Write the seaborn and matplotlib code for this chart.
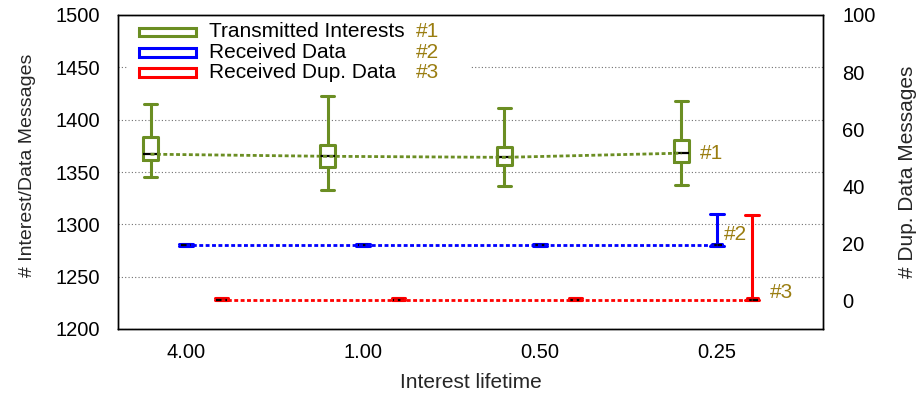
import numpy as np
import pandas as pd
import matplotlib
matplotlib.use("Agg")
import matplotlib.pyplot as plt
import seaborn as sns
from matplotlib.patches import Rectangle

# ---------------- data ----------------
lifetimes = ["4.00", "1.00", "0.50", "0.25"]

tx_whislo = [1345, 1333, 1337, 1338]
tx_q1 = [1361, 1355, 1357, 1360]
tx_med = [1367, 1365, 1364, 1368]
tx_q3 = [1383, 1376, 1374, 1381]
tx_whishi = [1415, 1423, 1411, 1418]

rx_whislo = [1279, 1279, 1279, 1279]
rx_q1 = [1279, 1279, 1279, 1279]
rx_med = [1280, 1280, 1280, 1280]
rx_q3 = [1281, 1281, 1281, 1281]
rx_whishi = [1281, 1281, 1281, 1310]

dup_whislo = [0.0, 0.0, 0.0, 0.0]
dup_q1 = [0.0, 0.0, 0.0, 0.0]
dup_med = [0.3, 0.3, 0.3, 0.3]
dup_q3 = [0.9, 0.9, 0.9, 0.9]
dup_whishi = [0.9, 0.9, 0.9, 30.0]

series_names = ["Transmitted Interests", "Received Data", "Received Dup. Data"]
series_tags = ["#1", "#2", "#3"]

# ---------------- style ----------------
sns.set_style("white")
plt.rcParams["font.family"] = ["Liberation Sans", "DejaVu Sans"]
FS_TICK = 14.5
FS = 15
FS_YLAB = 14
GREEN = "#6b8e23"
BLUE = "#0000ff"
RED = "#ff0000"
TAGC = "#9a7d10"


def frame(lo, q1, med, q3, hi, offset):
    xs, vs = [], []
    for i in range(len(lo)):
        for v in (lo[i], q1[i], med[i], q3[i], hi[i]):
            xs.append(1 + 5 * i + offset)
            vs.append(v)
    return pd.DataFrame({"pos": xs, "val": vs})


df_tx = frame(tx_whislo, tx_q1, tx_med, tx_q3, tx_whishi, 0)
df_rx = frame(rx_whislo, rx_q1, rx_med, rx_q3, rx_whishi, 1)
df_dup = frame(dup_whislo, dup_q1, dup_med, dup_q3, dup_whishi, 2)

fig = plt.figure(figsize=(9.2, 3.95), dpi=100)
ax = fig.add_axes([118 / 920, 1 - 329 / 395, 705 / 920, 314 / 395])
ax2 = ax.twinx()

LW = 2.2
common = dict(x="pos", y="val", native_scale=True, orient="x", fill=False,
              linewidth=LW, whis=(0, 100), showfliers=False, capwidths=0.38,
              medianprops=dict(color="black", linewidth=1.6))

sns.boxplot(data=df_tx, ax=ax, color=GREEN, width=0.4 / 5, **common)
sns.boxplot(data=df_rx, ax=ax, color=BLUE, width=0.3 / 5, **common)
sns.boxplot(data=df_dup, ax=ax2, color=RED, width=0.3 / 5, **common)

# dotted lines through medians
pos_tx = [1 + 5 * i for i in range(4)]
pos_rx = [2 + 5 * i for i in range(4)]
pos_dup = [3 + 5 * i for i in range(4)]
sns.lineplot(x=pos_tx, y=tx_med, ax=ax, color=GREEN, lw=2.0, dashes=False,
             linestyle=(0, (1.4, 0.9)), zorder=4)
sns.lineplot(x=pos_rx, y=rx_med, ax=ax, color=BLUE, lw=2.0, dashes=False,
             linestyle=(0, (1.4, 0.9)), zorder=4)
sns.lineplot(x=pos_dup, y=dup_med, ax=ax2, color=RED, lw=2.0, dashes=False,
             linestyle=(0, (1.4, 0.9)), zorder=4)

# axes limits / ticks
ax.set_xlim(0.08, 20.0)
ax.set_ylim(1200, 1500)
ax2.set_ylim(-10, 100)
ax.set_yticks(np.arange(1200, 1501, 50))
ax2.set_yticks(np.arange(0, 101, 20))

all_pos = sorted(pos_tx + pos_rx + pos_dup)
ax.set_xticks(all_pos)
ax.set_xticklabels([lifetimes[(p - 2) // 5] if (p - 2) % 5 == 0 else "" for p in all_pos])

ax.tick_params(axis="x", direction="in", length=5, width=1, pad=10,
               labelsize=FS_TICK, colors="black", top=False)
ax.tick_params(axis="y", length=0, pad=13, labelsize=FS_TICK, colors="black")
ax2.tick_params(axis="y", length=0, pad=14, labelsize=FS_TICK, colors="black")

for a in (ax, ax2):
    for s in a.spines.values():
        s.set_visible(True)
        s.set_color("black")
        s.set_linewidth(1.0)

ax.grid(axis="y", color="#707070", linestyle=(0, (1, 2)), linewidth=0.8)
ax.grid(axis="x", visible=False)
ax.set_axisbelow(True)

ax.set_xlabel("Interest lifetime", fontsize=FS, labelpad=8)
ax.set_ylabel("# Interest/Data Messages", fontsize=FS_YLAB, labelpad=14)
ax.yaxis.label.set_y(0.52)
ax2.set_ylabel("# Dup. Data Messages", fontsize=FS, labelpad=16)

# legend (drawn as key boxes + text on a white backdrop)
ax.add_patch(Rectangle((0.014, 0.787), 0.487, 0.19, transform=ax.transAxes,
                       facecolor="white", edgecolor="none", zorder=1))
row_y = [0.946, 0.880, 0.816]
for k, (c, name, tag) in enumerate(zip((GREEN, BLUE, RED), series_names, series_tags)):
    ax.add_patch(Rectangle((0.0295, row_y[k] - 0.0139), 0.0808, 0.0277,
                           transform=ax.transAxes, facecolor="white",
                           edgecolor=c, linewidth=2.2, zorder=6))
    ax.text(0.129, row_y[k], name, transform=ax.transAxes, color="black",
            fontsize=FS, ha="left", va="center", zorder=6)
    ax.text(0.4227, row_y[k], tag, transform=ax.transAxes, color=TAGC,
            fontsize=FS, ha="left", va="center", zorder=6)

# series tags near the last group
ax.text(16.52, 1368, series_tags[0], color=TAGC, fontsize=FS, ha="left", va="center")
ax.text(17.2, 1290, series_tags[1], color=TAGC, fontsize=FS, ha="left", va="center")
ax.text(18.5, 1235, series_tags[2], color=TAGC, fontsize=FS, ha="left", va="center")

fig.savefig("out.png", dpi=100)
